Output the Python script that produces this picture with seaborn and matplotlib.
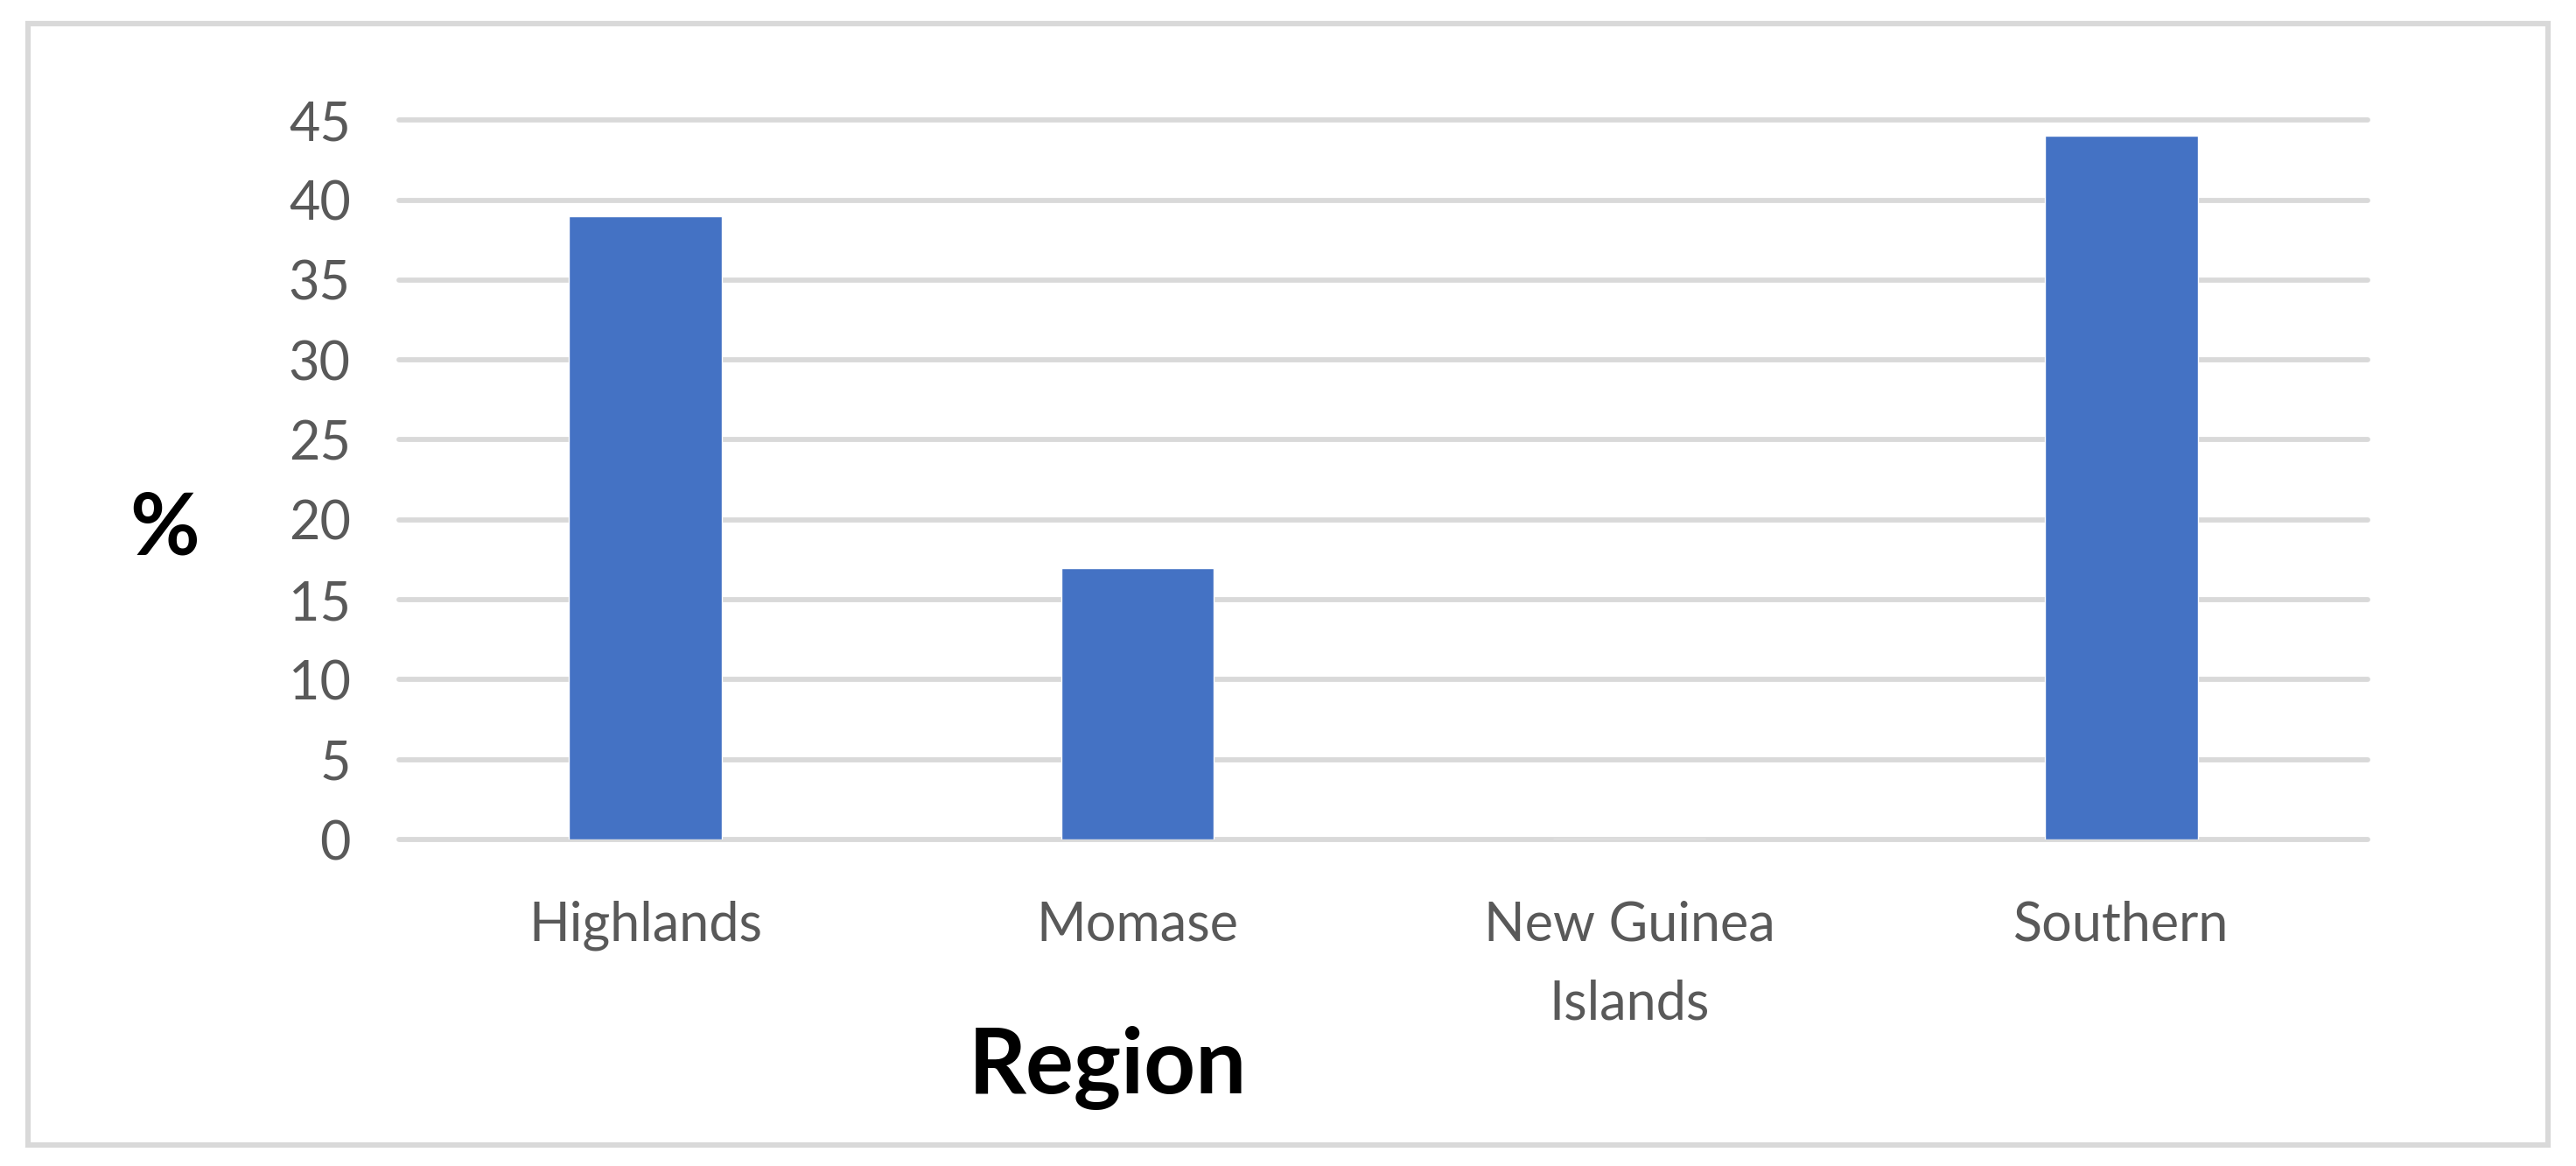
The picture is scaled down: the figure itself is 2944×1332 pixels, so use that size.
import matplotlib
matplotlib.use("Agg")
import matplotlib.pyplot as plt
import seaborn as sns
import pandas as pd
from matplotlib.patches import Rectangle

# data
regions = ["Highlands", "Momase", "New Guinea\nIslands", "Southern"]
percent = [39, 17, 0, 44]
yticks = [0, 5, 10, 15, 20, 25, 30, 35, 40, 45]

sns.set_style("white")
plt.rcParams['font.family'] = ['Lato', 'DejaVu Sans']

fig = plt.figure(figsize=(29.44, 13.32), dpi=100)
ax = fig.add_axes([0.155, 0.280, 0.764, 0.617])

df = pd.DataFrame({"Region": regions, "pct": percent})
sns.barplot(data=df, x="Region", y="pct", color="#4472C4", width=0.31,
            saturation=1, ax=ax, zorder=3)

ax.set_ylim(0, 45)
ax.set_xlim(-0.5, 3.5)
ax.set_yticks(yticks)
ax.grid(axis="y", color="#D9D9D9", linewidth=4.2, zorder=0)
for gl in ax.get_ygridlines():
    gl.set_clip_on(False)
for s in ax.spines.values():
    s.set_visible(False)

ax.tick_params(axis="y", length=0, pad=40, labelsize=44, labelcolor="#595959")
ax.tick_params(axis="x", length=0, pad=50, labelsize=44, labelcolor="#595959")
for lab in ax.get_xticklabels():
    lab.set_linespacing(1.72)

ax.set_xlabel("")
ax.set_ylabel("")
fig.text(0.064, 0.546, "%", fontsize=70, fontweight="bold", ha="center", va="center",
         color="black")
fig.text(0.430, 0.084, "Region", fontsize=74, fontweight="bold", ha="center", va="center",
         color="black")

# outer chart frame
fig.patches.append(Rectangle((0.011, 0.018), 0.978, 0.962, transform=fig.transFigure,
                             fill=False, edgecolor="#D9D9D9", linewidth=4.5))

fig.savefig("out.png", dpi=100, facecolor="white")
